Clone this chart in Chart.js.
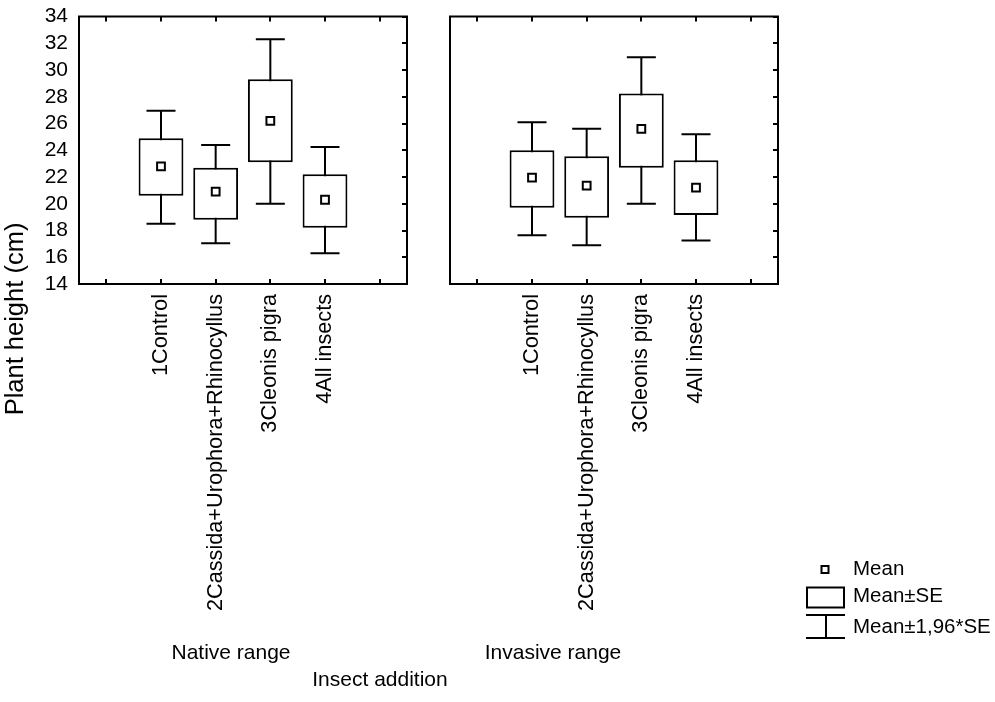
<!DOCTYPE html>
<html>
<head>
<meta charset="utf-8">
<script src="https://cdn.jsdelivr.net/npm/chart.js@4.4.1/dist/chart.umd.min.js"></script>
<style>
  html, body { margin: 0; padding: 0; background: #ffffff; }
  #wrap { position: relative; width: 995px; height: 702px; overflow: hidden; }
  canvas { position: absolute; left: 0; top: 0; }
</style>
</head>
<body>
<div id="wrap">
  <canvas id="c1" width="995" height="702"></canvas>
  <canvas id="c2" width="995" height="702"></canvas>
</div>
<script>
// ---- data ----
const categories = ['', '1Control', '2Cassida+Urophora+Rhinocyllus', '3Cleonis pigra', '4All insects', ''];
const yTicks = [14, 16, 18, 20, 22, 24, 26, 28, 30, 32, 34];
const panelTitles = ['Native range', 'Invasive range'];
const xTitle = 'Insect addition';
const yTitle = 'Plant height (cm)';
const legendLabels = ['Mean', 'Mean±SE', 'Mean±1,96*SE'];

const nativeMean = [22.8, 20.9, 26.2, 20.3];
const nativeSeLo = [20.6, 18.8, 23.1, 18.2];
const nativeSeHi = [24.9, 22.7, 29.3, 22.2];
const nativeCiLo = [18.5, 17.05, 20.0, 16.3];
const nativeCiHi = [26.95, 24.4, 32.3, 24.25];

const invasiveMean = [21.95, 21.35, 25.6, 21.2];
const invasiveSeLo = [19.7, 18.95, 22.7, 19.15];
const invasiveSeHi = [24.0, 23.55, 28.25, 23.25];
const invasiveCiLo = [17.65, 16.9, 20.0, 17.25];
const invasiveCiHi = [26.1, 25.6, 30.95, 25.2];

// ---- helpers ----
const FONT = "'Liberation Sans', Arial, sans-serif";
const pad = arr => [null, ...arr, null];
const ranges = (lo, hi) => pad(lo.map((l, i) => [l, hi[i]]));
const noPad = s => { s.paddingLeft = 0; s.paddingRight = 0; s.paddingTop = 0; s.paddingBottom = 0; };

const framePlugin = {
  id: 'frameTicks',
  afterDraw(chart) {
    const ctx = chart.ctx;
    const a = chart.chartArea;
    const xs = chart.scales.x, ys = chart.scales.y;
    ctx.save();
    ctx.strokeStyle = '#000';
    ctx.lineWidth = 2;
    ctx.strokeRect(a.left, a.top, a.right - a.left, a.bottom - a.top);
    ctx.beginPath();
    for (let i = 0; i < xs.ticks.length; i++) {
      const x = Math.round(xs.getPixelForTick(i));
      ctx.moveTo(x, a.top); ctx.lineTo(x, a.top + 5);
      ctx.moveTo(x, a.bottom); ctx.lineTo(x, a.bottom - 5);
    }
    for (let i = 0; i < ys.ticks.length; i++) {
      const y = Math.round(ys.getPixelForTick(i));
      ctx.moveTo(a.right - 5, y); ctx.lineTo(a.right, y);
    }
    ctx.stroke();
    ctx.restore();
  }
};

const textPlugin = {
  id: 'texts',
  afterDraw(chart) {
    const ctx = chart.ctx;
    ctx.save();
    ctx.fillStyle = '#000';
    ctx.font = '21px ' + FONT;
    ctx.textAlign = 'center';
    ctx.textBaseline = 'alphabetic';
    ctx.fillText(panelTitles[0], 231, 659);
    ctx.fillText(panelTitles[1], 553, 659);
    ctx.fillText(xTitle, 380, 686);
    // y title
    ctx.save();
    ctx.translate(23, 319);
    ctx.rotate(-Math.PI / 2);
    ctx.font = '25.5px ' + FONT;
    ctx.fillText(yTitle, 0, 0);
    ctx.restore();
    // legend
    ctx.strokeStyle = '#000';
    ctx.lineWidth = 2;
    ctx.strokeRect(821.5, 566, 7, 7);
    ctx.strokeRect(807, 587.5, 37, 20);
    ctx.beginPath();
    ctx.moveTo(806, 615); ctx.lineTo(845, 615);
    ctx.moveTo(826, 615); ctx.lineTo(826, 638);
    ctx.moveTo(806, 638); ctx.lineTo(845, 638);
    ctx.stroke();
    ctx.font = '20.5px ' + FONT;
    ctx.textAlign = 'left';
    ctx.fillText(legendLabels[0], 853, 575);
    ctx.fillText(legendLabels[1], 853, 602);
    ctx.fillText(legendLabels[2], 853, 633);
    ctx.restore();
  }
};

function makeChart(id, mean, seLo, seHi, ciLo, ciHi, padLeft, padRight, yWidth, showY, extraPlugins) {
  return new Chart(document.getElementById(id), {
    type: 'bar',
    data: {
      labels: categories,
      datasets: [
        { type: 'bar', data: ranges(ciLo, ciHi), backgroundColor: '#000', borderWidth: 0,
          barThickness: 2, grouped: false, order: 3, inflateAmount: 0 },
        { type: 'bar', data: ranges(seLo, seHi), backgroundColor: '#fff', borderColor: '#000',
          borderWidth: 2, borderSkipped: false, barPercentage: 0.82, categoryPercentage: 1,
          grouped: false, order: 2, inflateAmount: 0 },
        { type: 'line', data: pad(ciHi), showLine: false, pointStyle: 'line', pointRadius: 14.5,
          pointBorderWidth: 2, pointBorderColor: '#000', order: 1 },
        { type: 'line', data: pad(ciLo), showLine: false, pointStyle: 'line', pointRadius: 14.5,
          pointBorderWidth: 2, pointBorderColor: '#000', order: 1 },
        { type: 'line', data: pad(mean), showLine: false, pointStyle: 'rect', pointRadius: 5.5,
          pointBorderWidth: 2, pointBorderColor: '#000', pointBackgroundColor: '#fff', order: 0 }
      ]
    },
    options: {
      responsive: false,
      animation: false,
      devicePixelRatio: 1,
      events: [],
      layout: { padding: { left: padLeft, right: padRight, top: 12, bottom: 0 } },
      plugins: { legend: { display: false }, tooltip: { enabled: false } },
      scales: {
        x: {
          type: 'category',
          offset: true,
          grid: { display: false, drawTicks: false },
          border: { display: false },
          ticks: { autoSkip: false, minRotation: 90, maxRotation: 90, padding: 10,
                   color: '#000', font: { family: FONT, size: 21.7 } },
          afterFit: s => { s.height = 418; noPad(s); }
        },
        y: {
          min: 14, max: 34,
          afterBuildTicks: s => { s.ticks = yTicks.map(v => ({ value: v })); },
          grid: { display: false, drawTicks: false },
          border: { display: false },
          ticks: { display: showY, autoSkip: false, padding: 11, color: '#000',
                   font: { family: FONT, size: 21 } },
          afterFit: s => { s.width = yWidth; noPad(s); }
        }
      }
    },
    plugins: [framePlugin, ...extraPlugins]
  });
}

makeChart('c1', nativeMean, nativeSeLo, nativeSeHi, nativeCiLo, nativeCiHi, 0, 995 - 407, 79, true, [textPlugin]);
makeChart('c2', invasiveMean, invasiveSeLo, invasiveSeHi, invasiveCiLo, invasiveCiHi, 450, 995 - 778, 0, false, []);
</script>
</body>
</html>
